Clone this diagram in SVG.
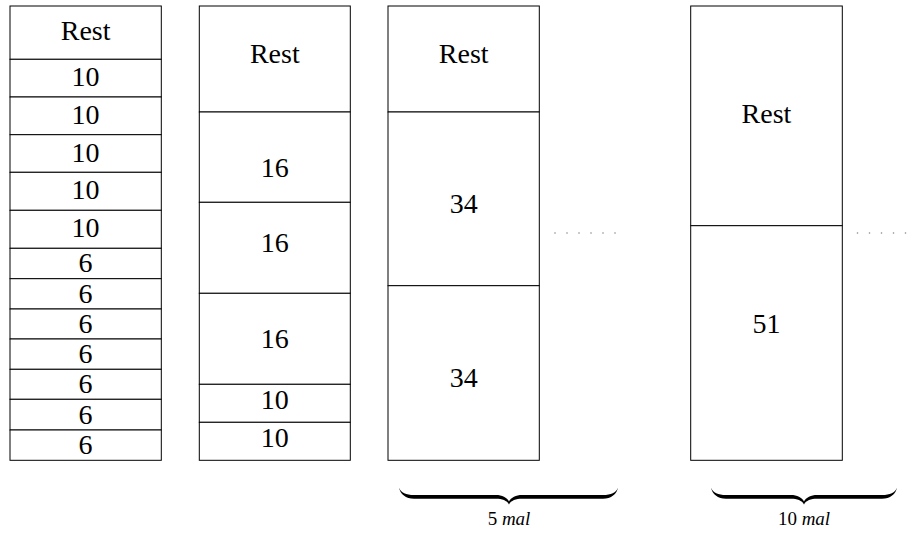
<svg xmlns="http://www.w3.org/2000/svg" width="910" height="533" viewBox="0 0 910 533" font-family="Liberation Serif, DejaVu Serif, Times New Roman, serif">
<style>
.c{fill:#fff;stroke:#000;stroke-width:1}
.t{font-size:28px;text-anchor:middle;fill:#000}
.l{font-size:19px;text-anchor:middle;fill:#000}
.d{fill:#888}
.b{fill:#000}
</style>
<rect width="910" height="533" fill="#fff"/>
<g id="col1">
<g id="c1-rest"><rect class="c" x="10" y="6" width="151.3" height="53.3"/><text class="t" x="85.6" y="39.5">Rest</text></g>
<g id="c1-10a"><rect class="c" x="10" y="59.3" width="151.3" height="37.7"/><text class="t" x="85.6" y="86">10</text></g>
<g id="c1-10b"><rect class="c" x="10" y="97" width="151.3" height="37.7"/><text class="t" x="85.6" y="123.5">10</text></g>
<g id="c1-10c"><rect class="c" x="10" y="134.7" width="151.3" height="37.6"/><text class="t" x="85.6" y="161.5">10</text></g>
<g id="c1-10d"><rect class="c" x="10" y="172.3" width="151.3" height="38"/><text class="t" x="85.6" y="199.3">10</text></g>
<g id="c1-10e"><rect class="c" x="10" y="210.3" width="151.3" height="38"/><text class="t" x="85.6" y="237.3">10</text></g>
<g id="c1-6a"><rect class="c" x="10" y="248.3" width="151.3" height="30.4"/><text class="t" x="85.6" y="272">6</text></g>
<g id="c1-6b"><rect class="c" x="10" y="278.7" width="151.3" height="30.3"/><text class="t" x="85.6" y="302.5">6</text></g>
<g id="c1-6c"><rect class="c" x="10" y="309" width="151.3" height="30"/><text class="t" x="85.6" y="332.5">6</text></g>
<g id="c1-6d"><rect class="c" x="10" y="339" width="151.3" height="30.3"/><text class="t" x="85.6" y="363">6</text></g>
<g id="c1-6e"><rect class="c" x="10" y="369.3" width="151.3" height="30"/><text class="t" x="85.6" y="393">6</text></g>
<g id="c1-6f"><rect class="c" x="10" y="399.3" width="151.3" height="30.7"/><text class="t" x="85.6" y="423.5">6</text></g>
<g id="c1-6g"><rect class="c" x="10" y="430" width="151.3" height="30.3"/><text class="t" x="85.6" y="454">6</text></g>
</g>
<g id="col2">
<g id="c2-rest"><rect class="c" x="199.3" y="6" width="151" height="106"/><text class="t" x="274.8" y="63.3">Rest</text></g>
<g id="c2-16a"><rect class="c" x="199.3" y="112" width="151" height="90.3"/><text class="t" x="274.8" y="176.5">16</text></g>
<g id="c2-16b"><rect class="c" x="199.3" y="202.3" width="151" height="91"/><text class="t" x="274.8" y="251.5">16</text></g>
<g id="c2-16c"><rect class="c" x="199.3" y="293.3" width="151" height="91"/><text class="t" x="274.8" y="348">16</text></g>
<g id="c2-10a"><rect class="c" x="199.3" y="384.3" width="151" height="38"/><text class="t" x="274.8" y="409">10</text></g>
<g id="c2-10b"><rect class="c" x="199.3" y="422.3" width="151" height="38"/><text class="t" x="274.8" y="446.5">10</text></g>
</g>
<g id="col3">
<g id="c3-rest"><rect class="c" x="388" y="6" width="151.3" height="106"/><text class="t" x="463.7" y="63.3">Rest</text></g>
<g id="c3-34a"><rect class="c" x="388" y="112" width="151.3" height="173.7"/><text class="t" x="463.7" y="213.3">34</text></g>
<g id="c3-34b"><rect class="c" x="388" y="285.7" width="151.3" height="174.6"/><text class="t" x="463.7" y="386.7">34</text></g>
</g>
<g id="col4">
<g id="c4-rest"><rect class="c" x="690.7" y="6" width="151.6" height="219.7"/><text class="t" x="766.5" y="123.3">Rest</text></g>
<g id="c4-51"><rect class="c" x="690.7" y="225.7" width="151.6" height="234.6"/><text class="t" x="766.5" y="333.3">51</text></g>
</g>
<g id="connectors">
<g id="dots1">
<circle class="d" cx="555" cy="233" r="0.8"/><circle class="d" cx="567" cy="233" r="0.8"/><circle class="d" cx="579" cy="233" r="0.8"/><circle class="d" cx="591" cy="233" r="0.8"/><circle class="d" cx="603" cy="233" r="0.8"/><circle class="d" cx="615" cy="233" r="0.8"/>
</g>
<g id="dots2">
<circle class="d" cx="857.5" cy="233" r="0.8"/><circle class="d" cx="869.5" cy="233" r="0.8"/><circle class="d" cx="881.5" cy="233" r="0.8"/><circle class="d" cx="893.5" cy="233" r="0.8"/><circle class="d" cx="905.5" cy="233" r="0.8"/>
</g>
<path id="brace1" class="b" d="M399,487.5 C401,493 406,495 414,495 L496,495 C502,495 507,497.5 509,501.5 C511,497.5 516,495 522,495 L603,495 C611,495 616,493 618,487.5 C617,494 611,498.8 603,498.8 L522,498.8 C516,498.8 511,500.5 509,504.5 C507,500.5 502,498.8 496,498.8 L414,498.8 C406,498.8 400,494 399,487.5 Z"/>
<path id="brace2" class="b" d="M711,487.5 C713,493 718,495 726,495 L791,495 C797,495 802,497.5 804,501.5 C806,497.5 811,495 817,495 L882,495 C890,495 895,493 897,487.5 C896,494 890,498.8 882,498.8 L817,498.8 C811,498.8 806,500.5 804,504.5 C802,500.5 797,498.8 791,498.8 L726,498.8 C718,498.8 712,494 711,487.5 Z"/>
<text class="l" x="509" y="525">5 <tspan font-style="italic">mal</tspan></text>
<text class="l" x="804" y="525">10 <tspan font-style="italic">mal</tspan></text>
</g>
</svg>
